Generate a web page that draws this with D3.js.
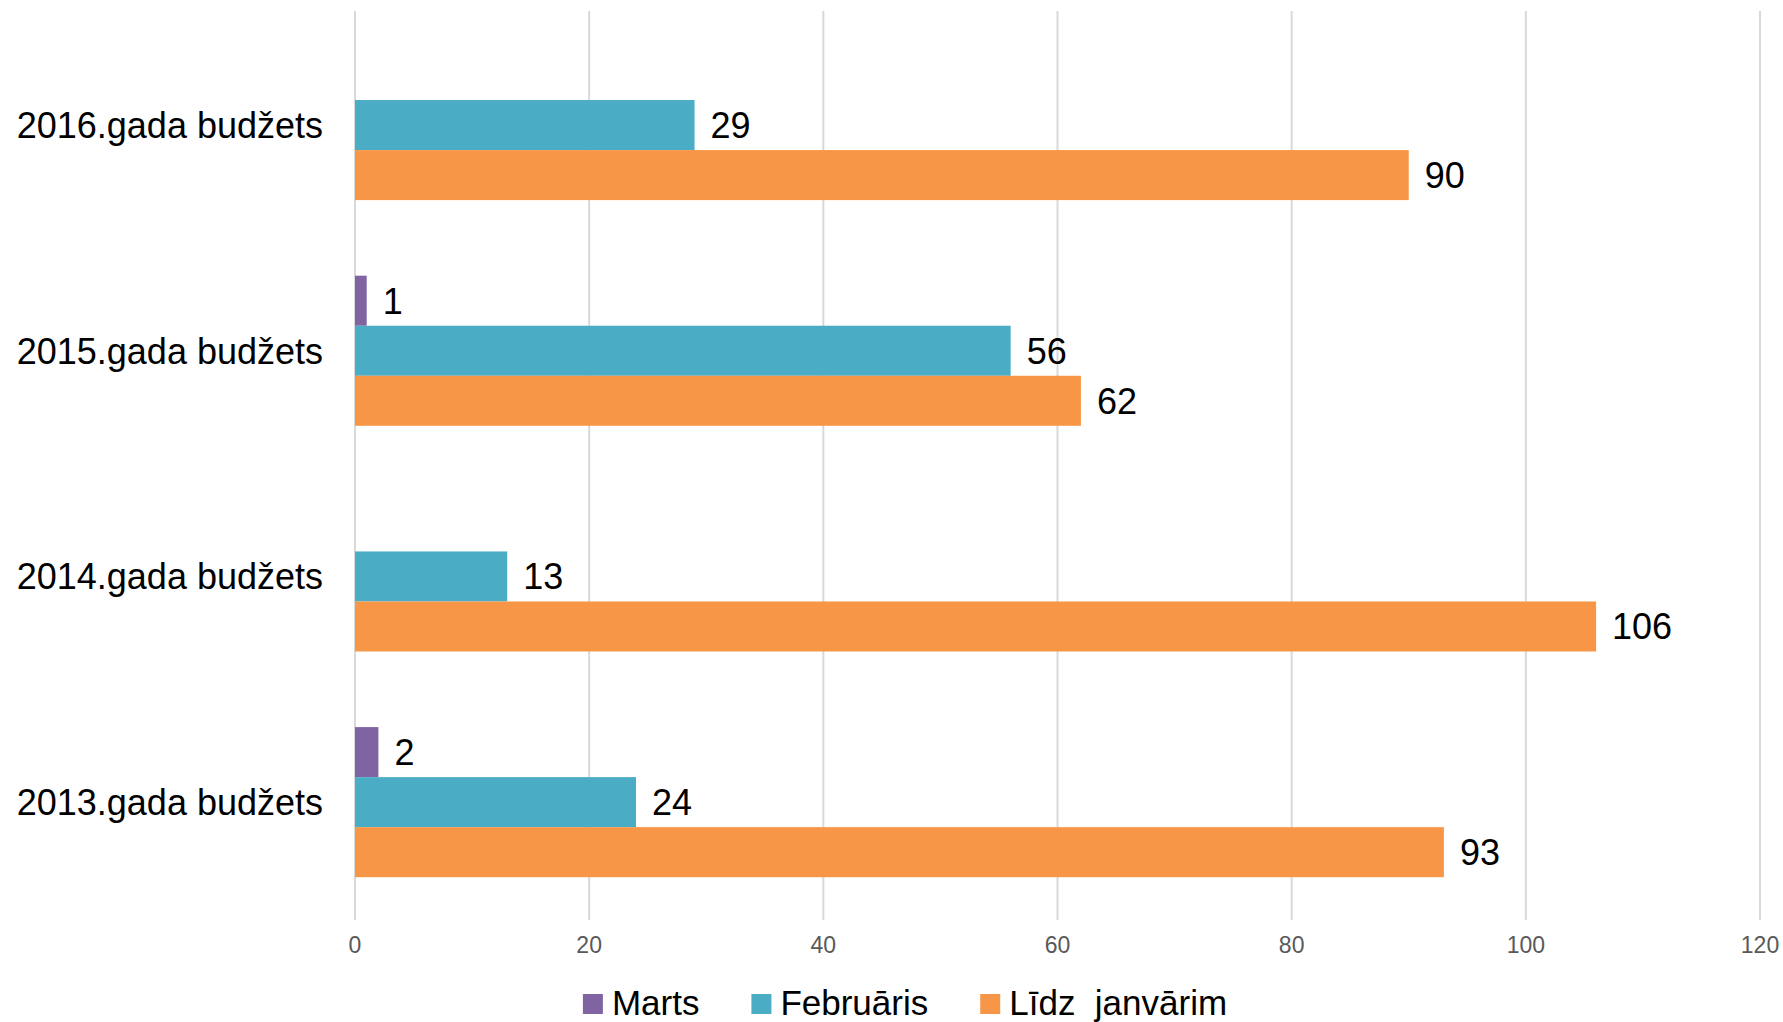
<!DOCTYPE html>
<html>
<head>
<meta charset="utf-8">
<script src="https://cdn.jsdelivr.net/npm/d3@7"></script>
<style>
  body { margin: 0; background: #fff; }
  svg { display: block; }
</style>
</head>
<body>
<div id="chart"></div>
<script>
// chart data, top category first
const categories = ['2016.gada budžets', '2015.gada budžets', '2014.gada budžets', '2013.gada budžets']
const seriesNames = ['Marts', 'Februāris', 'Līdz  janvārim']
const marts = [null, 1, null, 2]
const februaris = [29, 56, 13, 24]
const lidzJanvarim = [90, 62, 106, 93]
const xTicks = [0, 20, 40, 60, 80, 100, 120]
const colors = ['#8064a2', '#4bacc6', '#f79646']

const width = 1783
const height = 1022

const seriesValues = [marts, februaris, lidzJanvarim]
const rows = []
categories.forEach((c, i) => {
    seriesNames.forEach((s, j) => {
        rows.push({ cat: c, series: s, idx: j, value: seriesValues[j][i] })
    })
})

const svg = d3.select('#chart').append('svg')
    .attr('width', width)
    .attr('height', height)

const x = d3.scaleLinear().domain([0, 120]).range([355, 1760])
const y = d3.scaleBand().domain(categories).range([12.2, 915])
    .paddingInner(0.335).paddingOuter(0.1675)
const ySub = d3.scaleBand().domain(seriesNames).range([0, y.bandwidth()])

// gridlines
svg.append('g')
  .selectAll('line')
  .data(xTicks)
  .enter().append('line')
    .attr('x1', d => x(d)).attr('x2', d => x(d))
    .attr('y1', 11).attr('y2', 920)
    .attr('stroke', '#d9d9d9')
    .attr('stroke-width', 2)

// x tick labels
svg.append('g')
  .selectAll('text')
  .data(xTicks)
  .enter().append('text')
    .attr('x', d => x(d))
    .attr('y', 953)
    .attr('text-anchor', 'middle')
    .attr('font-family', 'Liberation Sans, Arial, sans-serif')
    .attr('font-size', 23)
    .attr('fill', '#595959')
    .text(d => d)

// bars
const drawn = rows.filter(d => d.value != null)
svg.append('g')
  .selectAll('rect')
  .data(drawn)
  .enter().append('rect')
    .attr('x', x(0))
    .attr('y', d => y(d.cat) + ySub(d.series))
    .attr('width', d => x(d.value) - x(0))
    .attr('height', ySub.bandwidth())
    .attr('fill', d => colors[d.idx])

// value labels
svg.append('g')
  .selectAll('text')
  .data(drawn)
  .enter().append('text')
    .attr('x', d => x(d.value) + 16)
    .attr('y', d => y(d.cat) + ySub(d.series) + ySub.bandwidth() / 2 + 13)
    .attr('font-family', 'Liberation Sans, Arial, sans-serif')
    .attr('font-size', 36)
    .attr('fill', '#000')
    .text(d => d.value)

// category labels
svg.append('g')
  .selectAll('text')
  .data(categories)
  .enter().append('text')
    .attr('x', 323)
    .attr('y', d => y(d) + y.bandwidth() / 2 + 13)
    .attr('text-anchor', 'end')
    .attr('font-family', 'Liberation Sans, Arial, sans-serif')
    .attr('font-size', 36)
    .attr('fill', '#000')
    .text(d => d)

// legend
const legend = svg.append('g')
const items = legend.selectAll('g')
  .data(seriesNames)
  .enter().append('g')
items.append('rect')
    .attr('width', 20).attr('height', 20)
    .attr('y', 994)
    .attr('fill', (d, i) => colors[i])
items.append('text')
    .attr('x', 29)
    .attr('y', 1015)
    .attr('font-family', 'Liberation Sans, Arial, sans-serif')
    .attr('font-size', 35)
    .attr('fill', '#000')
    .style('white-space', 'pre')
    .text(d => d)

let offset = 0
const positions = []
items.each(function () {
    const w = this.getBBox().width
    positions.push(offset)
    offset += w + 52
})
const totalW = offset - 52
const startX = 905 - totalW / 2
items.attr('transform', (d, i) => 'translate(' + (startX + positions[i]) + ',0)')
</script>
</body>
</html>
